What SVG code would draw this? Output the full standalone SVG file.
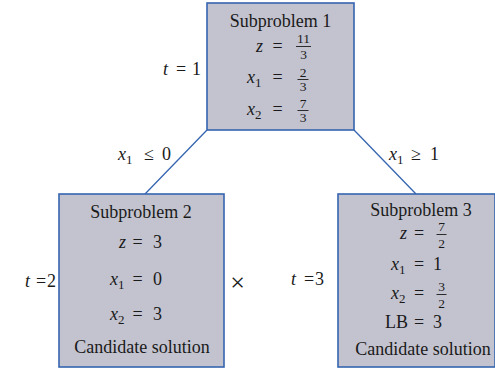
<svg xmlns="http://www.w3.org/2000/svg" width="495" height="370" viewBox="0 0 495 370">
<style>
text{font-family:"Liberation Serif","Times New Roman",serif;font-size:18px;fill:#1a1a1a}
.i{font-style:italic}
.s{font-size:13px}
.f{font-size:13.5px}
.m{text-anchor:middle}
.e{text-anchor:end}
.box{fill:#c3c3cf;stroke:#3565b0;stroke-width:1.6}
.bar{stroke:#1a1a1a;stroke-width:0.9}
.edge{stroke:#3565b0;stroke-width:1.3;fill:none}
</style>
<g id="connectors">
<line class="edge" x1="207" y1="130" x2="145" y2="194"/>
<line class="edge" x1="354" y1="130" x2="416" y2="194"/>
</g>
<g id="edge-labels">
<text x="118" y="160"><tspan class="i">x</tspan><tspan class="s" dy="4">1</tspan><tspan dy="-4" x="144">≤</tspan><tspan x="162">0</tspan></text>
<text x="389" y="160"><tspan class="i">x</tspan><tspan class="s" dy="4">1</tspan><tspan dy="-4" x="411">≥</tspan><tspan x="430">1</tspan></text>
</g>
<g id="node1">
<rect class="box" x="207" y="3" width="147" height="127"/>
<text class="m" x="280.5" y="27">Subproblem 1</text>
<text class="e i" x="263" y="52">z</text>
<text class="m" x="277.5" y="52">=</text>
<text class="m f" x="303.5" y="43">11</text>
<line class="bar" x1="296" y1="46.5" x2="311" y2="46.5"/>
<text class="m f" x="303.5" y="59">3</text>
<text x="247" y="83"><tspan class="i">x</tspan><tspan class="s" dy="4">1</tspan></text>
<text class="m" x="277.5" y="83">=</text>
<text class="m f" x="303" y="76.5">2</text>
<line class="bar" x1="297.5" y1="79.5" x2="308.5" y2="79.5"/>
<text class="m f" x="303" y="91">3</text>
<text x="247" y="115"><tspan class="i">x</tspan><tspan class="s" dy="4">2</tspan></text>
<text class="m" x="277.5" y="115">=</text>
<text class="m f" x="303" y="107.5">7</text>
<line class="bar" x1="297.5" y1="110.5" x2="308.5" y2="110.5"/>
<text class="m f" x="303" y="122">3</text>
<text x="163" y="75"><tspan class="i">t</tspan><tspan x="176">=</tspan><tspan x="192">1</tspan></text>
</g>
<g id="node2">
<rect class="box" x="59" y="194" width="165" height="173"/>
<text class="m" x="141" y="218">Subproblem 2</text>
<text class="e i" x="126" y="248">z</text>
<text class="m" x="137.5" y="248">=</text>
<text x="153" y="248">3</text>
<text x="110" y="285"><tspan class="i">x</tspan><tspan class="s" dy="4">1</tspan></text>
<text class="m" x="137.5" y="285">=</text>
<text x="153" y="285">0</text>
<text x="110" y="320"><tspan class="i">x</tspan><tspan class="s" dy="4">2</tspan></text>
<text class="m" x="137.5" y="320">=</text>
<text x="153" y="320">3</text>
<text class="m" x="142" y="353">Candidate solution</text>
<text x="25" y="287"><tspan class="i">t</tspan><tspan x="36">=</tspan><tspan x="47">2</tspan></text>
<text class="m" x="237.5" y="291" style="font-size:26px">×</text>
</g>
<g id="node3">
<rect class="box" x="338" y="194" width="157" height="173"/>
<text class="m" x="421" y="216">Subproblem 3</text>
<text class="e i" x="407" y="239">z</text>
<text class="m" x="419" y="239">=</text>
<text class="m f" x="441.5" y="231">7</text>
<line class="bar" x1="436.5" y1="234.5" x2="446.5" y2="234.5"/>
<text class="m f" x="441.5" y="248">2</text>
<text x="391" y="270"><tspan class="i">x</tspan><tspan class="s" dy="4">1</tspan></text>
<text class="m" x="419" y="270">=</text>
<text x="433" y="270">1</text>
<text x="391" y="299"><tspan class="i">x</tspan><tspan class="s" dy="4">2</tspan></text>
<text class="m" x="419" y="299">=</text>
<text class="m f" x="441.5" y="291">3</text>
<line class="bar" x1="436.5" y1="294.5" x2="446.5" y2="294.5"/>
<text class="m f" x="441.5" y="308">2</text>
<text class="e" x="408" y="328">LB</text>
<text class="m" x="419" y="328">=</text>
<text x="433" y="328">3</text>
<text class="m" x="423" y="355">Candidate solution</text>
<text x="291" y="285"><tspan class="i">t</tspan><tspan x="304">=</tspan><tspan x="315">3</tspan></text>
</g>
</svg>
